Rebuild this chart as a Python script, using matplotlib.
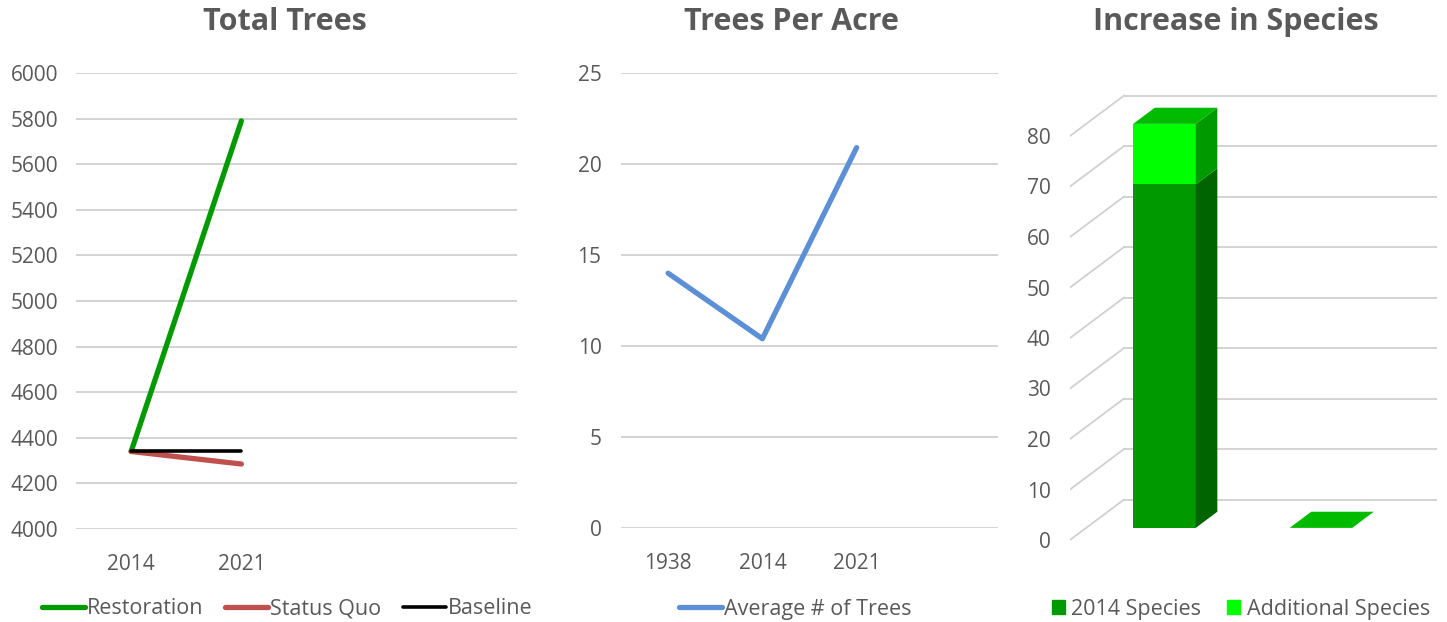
import numpy as np
import matplotlib
matplotlib.use("Agg")
import matplotlib.pyplot as plt
from matplotlib.patches import Polygon, Patch

plt.rcParams['font.family'] = ['Open Sans', 'DejaVu Sans']

# data
total_years = ['2014', '2021', '', '']
restoration = [4340, 5790]
status_quo = [4340, 4285]
baseline = [4340, 4340]

acre_years = ['1938', '2014', '2021', '']
avg_trees = [14.0, 10.4, 20.9]

species_cats = ['', '']
species_2014 = [68, 0]
species_added = [12, 0]

TXT = '#595959'
GRID = '#d0d0d0'
TICK_FS = 15
LEG_FS = 15.5
TITLE_FS = 22

fig = plt.figure(figsize=(14.47, 6.22), dpi=100)


def style_axes(ax, ypad):
    for s in ax.spines.values():
        s.set_visible(False)
    ax.tick_params(axis='both', length=0, labelsize=TICK_FS, colors=TXT)
    ax.tick_params(axis='x', pad=18)
    ax.tick_params(axis='y', pad=ypad)
    ax.grid(axis='y', color=GRID, lw=1.3)
    ax.set_axisbelow(True)


# panel 1 - total trees
ax1 = fig.add_axes([76 / 1447, 1 - 529 / 622, 441 / 1447, 456 / 622])
x = np.arange(len(restoration))
ax1.plot(x, restoration, color='#009900', lw=3.8, solid_capstyle='round', label='Restoration')
ax1.plot(x, status_quo, color='#c0504d', lw=3.8, solid_capstyle='round', label='Status Quo')
ax1.plot(x, baseline, color='black', lw=2.6, solid_capstyle='round', label='Baseline')
ax1.set_xticks(range(len(total_years)))
ax1.set_xticklabels(total_years)
ax1.set_xlim(-0.5, len(total_years) - 0.5)
ax1.set_ylim(4000, 6000)
ax1.set_yticks(range(4000, 6001, 200))
style_axes(ax1, 13)
fig.text(285 / 1447, 1 - 22 / 622, 'Total Trees', ha='center', va='center',
         fontsize=TITLE_FS, fontweight='bold', color=TXT)
fig.legend(handles=ax1.get_lines(), loc='center', bbox_to_anchor=(287 / 1447, 1 - 609 / 622),
           ncol=3, frameon=False, fontsize=LEG_FS, handlelength=2.0, handletextpad=0.1,
           columnspacing=1.0, labelcolor=TXT)

# panel 2 - trees per acre
ax2 = fig.add_axes([621 / 1447, 1 - 528 / 622, 377 / 1447, 455 / 622])
ax2.plot(np.arange(len(avg_trees)), avg_trees, color='#5b8fd6', lw=3.8,
         solid_capstyle='round', label='Average # of Trees')
ax2.set_xticks(range(len(acre_years)))
ax2.set_xticklabels(acre_years)
ax2.set_xlim(-0.5, len(acre_years) - 0.5)
ax2.set_ylim(0, 25)
ax2.set_yticks(range(0, 26, 5))
style_axes(ax2, 14)
fig.text(791 / 1447, 1 - 22 / 622, 'Trees Per Acre', ha='center', va='center',
         fontsize=TITLE_FS, fontweight='bold', color=TXT)
fig.legend(handles=ax2.get_lines(), loc='center', bbox_to_anchor=(795 / 1447, 1 - 609 / 622),
           frameon=False, fontsize=LEG_FS, handlelength=2.0, handletextpad=0.1, labelcolor=TXT)

# panel 3 - increase in species (fake 3d stacked column)
DX, DY = 0.345, 8.0        # full depth vector (category units, value units)
d0, d1 = 0.3, 0.7          # bar depth position
bw = 0.4
ylo, yhi = -2, 90
ax3 = fig.add_axes([1070 / 1447, 1 - 550.1 / 622, 367 / 1447, 464.6 / 622])
ncat = len(species_cats)
ax3.set_xlim(0, ncat + DX)
ax3.set_ylim(ylo, yhi)
for v in range(0, 81, 10):
    ax3.plot([DX, ncat + DX], [v + DY, v + DY], color=GRID, lw=1.3, zorder=0)
    ax3.plot([0, DX], [v, v + DY], color=GRID, lw=1.3, zorder=0)
ax3.set_yticks(range(0, 81, 10))
ax3.set_xticks([])
style_axes(ax3, 14)
ax3.grid(False)


def box(ax, c, b, t, front, side):
    xl = c - bw / 2 + d0 * DX
    xr = c + bw / 2 + d0 * DX
    yb = b + d0 * DY
    yt = t + d0 * DY
    ddx, ddy = (d1 - d0) * DX, (d1 - d0) * DY
    if t > b:
        ax.add_patch(Polygon([(xl, yb), (xr, yb), (xr, yt), (xl, yt)], closed=True,
                             fc=front, ec='none', zorder=3))
        ax.add_patch(Polygon([(xr, yb), (xr + ddx, yb + ddy), (xr + ddx, yt + ddy), (xr, yt)],
                             closed=True, fc=side, ec='none', zorder=3))
    return (xl, xr, yt, ddx, ddy)


for i in range(ncat):
    c = i + 0.5
    b1 = species_2014[i]
    t2 = b1 + species_added[i]
    box(ax3, c, 0, b1, '#009900', '#006400')
    xl, xr, yt, ddx, ddy = box(ax3, c, b1, t2, '#00ff00', '#009a00')
    ax3.add_patch(Polygon([(xl, yt), (xr, yt), (xr + ddx, yt + ddy), (xl + ddx, yt + ddy)],
                          closed=True, fc='#00bb00', ec='none', zorder=4))

fig.text(1236 / 1447, 1 - 22 / 622, 'Increase in Species', ha='center', va='center',
         fontsize=TITLE_FS, fontweight='bold', color=TXT)
handles3 = [Patch(color='#009900', label='2014 Species'),
            Patch(color='#00ff00', label='Additional Species')]
fig.legend(handles=handles3, loc='center', bbox_to_anchor=(1241 / 1447, 1 - 609 / 622),
           ncol=2, frameon=False, fontsize=LEG_FS, handlelength=0.6, handleheight=0.6,
           handletextpad=0.3, columnspacing=1.2, labelcolor=TXT)

fig.savefig('out.png', dpi=100)
